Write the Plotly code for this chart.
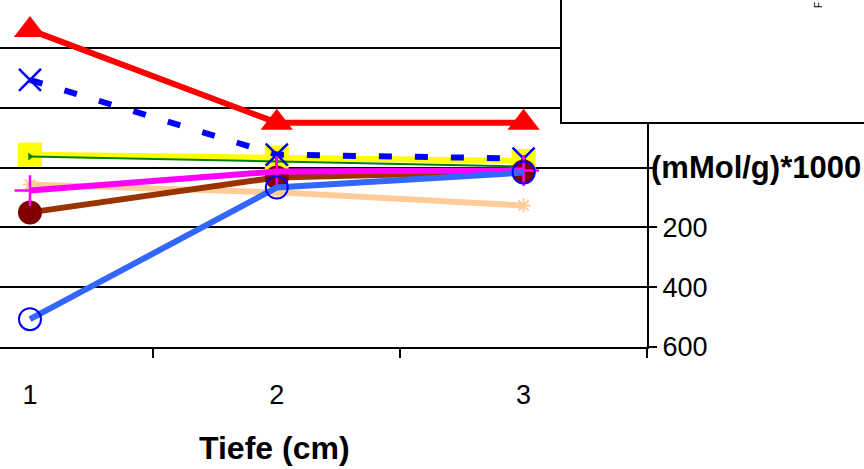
import plotly.graph_objects as go

# Tiefe (cm) categories and concentrations (mMol/g)*1000
tiefe = [1, 2, 3]
rot = [-460, -150, -150]
blau_gestrichelt = [-293, -43, -30]
gelb = [-43, -33, -22]
gruen = [-37, -20, -3]
pfirsich = [57, 83, 127]
braun = [150, 33, 13]
magenta = [77, 13, 10]
hellblau = [507, 67, 17]

y_ticks = [-400, -200, 0, 200, 400, 600]
y_ticktext = ["", "", "", "200", "400", "600"]

fig = go.Figure()

fig.add_trace(go.Scatter(
    x=tiefe, y=pfirsich, mode="lines+markers",
    line=dict(color="#FFCC99", width=6),
    marker=dict(symbol="asterisk", size=12, color="#FFCC99", line=dict(color="#FFCC99", width=2)),
))
fig.add_trace(go.Scatter(
    x=tiefe, y=gelb, mode="lines+markers",
    line=dict(color="#FFFF00", width=6),
    marker=dict(symbol="square", size=24, color="#FFFF00"),
))
fig.add_trace(go.Scatter(
    x=tiefe, y=gruen, mode="lines+markers",
    line=dict(color="#008000", width=2),
    marker=dict(symbol="triangle-right", size=7, color="#008000"),
))
fig.add_trace(go.Scatter(
    x=tiefe, y=rot, mode="lines+markers",
    line=dict(color="#FF0000", width=6),
    marker=dict(symbol="triangle-up", size=28, color="#FF0000"),
))
fig.add_trace(go.Scatter(
    x=tiefe, y=blau_gestrichelt, mode="lines+markers",
    line=dict(color="#0000FF", width=6, dash="13px,23px"),
    marker=dict(symbol="x-thin", size=22, color="#0000FF", line=dict(color="#0000FF", width=2.5)),
))
fig.add_trace(go.Scatter(
    x=tiefe, y=braun, mode="lines+markers",
    line=dict(color="#993300", width=6),
    marker=dict(symbol="circle", size=24, color="#800000"),
))
fig.add_trace(go.Scatter(
    x=tiefe, y=magenta, mode="lines+markers",
    line=dict(color="#FF00FF", width=6),
    marker=dict(symbol="cross-thin", size=22, color="#FF00FF", line=dict(color="#FF00FF", width=2.5)),
))
fig.add_trace(go.Scatter(
    x=tiefe, y=hellblau, mode="lines+markers",
    line=dict(color="#3366FF", width=6),
    marker=dict(symbol="circle-open", size=22, color="#0000FF", line=dict(color="#0000FF", width=2)),
))

fig.update_traces(showlegend=False, cliponaxis=False)

fig.update_xaxes(
    range=[1 - 30 / 247, 3.5],
    tickvals=tiefe,
    ticktext=[str(t) for t in tiefe],
    ticks="",
    ticklabelstandoff=23,
    tickfont=dict(family="Liberation Sans, Arial", size=27, color="black"),
    showgrid=False,
    zeroline=False,
    showline=True, linecolor="black", linewidth=2,
    minor=dict(tick0=1.5, dtick=1, ticks="outside", ticklen=9,
               tickcolor="black", tickwidth=2, showgrid=False),
)

fig.update_yaxes(
    range=[600, -560],
    side="right",
    tickvals=y_ticks,
    ticktext=y_ticktext,
    ticks="outside", ticklen=8, tickcolor="black", tickwidth=2,
    tickfont=dict(family="Liberation Sans, Arial", size=27, color="black"),
    showgrid=True, gridcolor="black", gridwidth=2,
    zeroline=False,
    showline=True, linecolor="black", linewidth=2,
)

# Legendenrahmen (Inhalt liegt außerhalb des Ausschnitts)
fig.add_shape(
    type="rect", xref="paper", yref="paper",
    x0=561 / 647, x1=1.5, y0=(347 - 123) / 347, y1=1.1,
    fillcolor="white", line=dict(color="black", width=2), layer="above",
)
fig.add_annotation(
    text="F", xref="paper", yref="paper", x=818 / 647, y=1.0,
    xanchor="center", yanchor="top", textangle=-90, showarrow=False,
    font=dict(family="Liberation Sans, Arial", size=10, color="black"),
)

fig.add_annotation(
    text="<b>(mMol/g)*1000</b>", xref="paper", yref="y", x=1, y=0,
    xanchor="left", yanchor="middle", xshift=2, showarrow=False,
    font=dict(family="Liberation Sans, Arial", size=31, color="black"),
)
fig.add_annotation(
    text="<b>Tiefe (cm)</b>", xref="x", yref="paper", x=1.99, y=-0.29,
    xanchor="center", yanchor="middle", showarrow=False,
    font=dict(family="Liberation Sans, Arial", size=32, color="black"),
)

fig.update_layout(
    width=864, height=469,
    margin=dict(l=0, r=217, t=0, b=122, autoexpand=False),
    plot_bgcolor="white", paper_bgcolor="white",
)

fig.write_html("out.html", config={"displayModeBar": False},
               post_script="document.body.style.margin='0';")
